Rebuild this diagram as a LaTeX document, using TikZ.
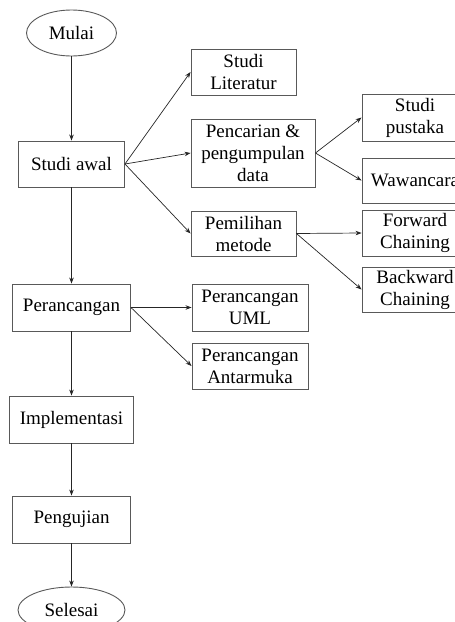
\documentclass[tikz,border=0pt]{standalone}
\usepackage{fontspec}
\setmainfont{Liberation Serif}
\usetikzlibrary{shapes.geometric,arrows.meta}
\begin{document}
\begin{tikzpicture}[x=1pt,y=-1pt,
  every node/.style={font=\fontsize{19}{22}\selectfont, align=center, inner sep=0pt},
  box/.style={draw=black!65, line width=0.9pt, rectangle},
  oval/.style={draw=black!65, line width=0.9pt, ellipse},
  arr/.style={draw=black!85, line width=0.7pt, -{Stealth[length=6pt,width=4.5pt]}}]
\useasboundingbox (0,0) rectangle (455,622);
\clip (0,0) rectangle (455,622);
\node[oval, minimum width=90pt, minimum height=46pt] (mulai) at (71.5,33) {Mulai};
\node[box, minimum width=106pt, minimum height=46pt] (awal) at (71.5,164) {Studi awal};
\node[box, minimum width=105pt, minimum height=46pt] (lit) at (243.5,72) {Studi\\Literatur};
\node[box, minimum width=124pt, minimum height=68pt] (cari) at (253,153) {Pencarian \&\\pengumpulan\\data};
\node[box, minimum width=105pt, minimum height=45pt] (pilih) at (243.5,233.5) {Pemilihan\\metode};
\node[box, minimum width=106pt, minimum height=47pt] (pustaka) at (415,117.5) {Studi\\pustaka};
\node[box, minimum width=106pt, minimum height=45pt] (wawan) at (415,180.5) {Wawancara};
\node[box, minimum width=106pt, minimum height=46pt] (fwd) at (415,233) {Forward\\Chaining};
\node[box, minimum width=106pt, minimum height=45pt] (bwd) at (415,289.5) {Backward\\Chaining};
\node[box, minimum width=118pt, minimum height=47pt] (ranc) at (71.5,307.5) {Perancangan};
\node[box, minimum width=116pt, minimum height=47pt] (uml) at (250,307.5) {Perancangan\\UML};
\node[box, minimum width=116pt, minimum height=46pt] (antar) at (250,366) {Perancangan\\Antarmuka};
\node[box, minimum width=124pt, minimum height=47pt] (impl) at (71.5,419.5) {Implementasi};
\node[box, minimum width=118pt, minimum height=47pt] (uji) at (71.5,519.5) {Pengujian};
\node[oval, minimum width=107pt, minimum height=46pt] (selesai) at (71.5,610) {Selesai};
\draw[arr] (mulai.south) -- (awal.north);
\draw[arr] (awal.south) -- (ranc.north);
\draw[arr] (ranc.south) -- (impl.north);
\draw[arr] (impl.south) -- (uji.north);
\draw[arr] (uji.south) -- (selesai.north);
\draw[arr] (awal.east) -- (lit.west);
\draw[arr] (awal.east) -- (cari.west);
\draw[arr] (awal.east) -- (pilih.west);
\draw[arr] (cari.east) -- (pustaka.west);
\draw[arr] (cari.east) -- (wawan.west);
\draw[arr] (pilih.east) -- (fwd.west);
\draw[arr] (pilih.east) -- (bwd.west);
\draw[arr] (ranc.east) -- (uml.west);
\draw[arr] (ranc.east) -- (antar.west);
\end{tikzpicture}
\end{document}
